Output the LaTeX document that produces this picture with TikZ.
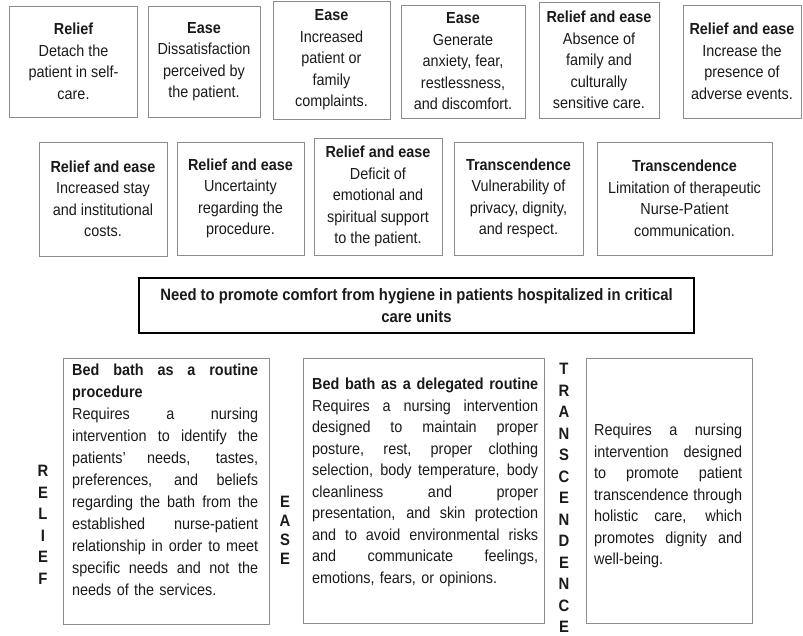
\documentclass[tikz,border=0pt]{standalone}
\usepackage{fontspec}
\setmainfont{Liberation Sans}[FakeStretch=0.9]
\definecolor{framegray}{HTML}{8C8C8C}
\definecolor{ink}{HTML}{1A1A1A}
\setlength{\parindent}{0pt}
% a justified line: interword spaces share out the full width \jlw
\newcommand\jlw{100pt}
\newcommand\jl[1]{\leavevmode\hbox to \jlw{\spaceskip=0.26em plus 1fil\relax
  \xspaceskip=0.26em plus 1fil\relax #1}}
\begin{document}
\begin{tikzpicture}[x=1pt,y=-1pt,
  every node/.style={text=ink},
  cardtxt/.style={font=\fontsize{16}{21.5}\selectfont},
  card/.style={draw=framegray, line width=0.9pt, inner sep=0pt, align=center, cardtxt},
  frame/.style={draw=framegray, line width=0.9pt, inner sep=0pt},
  bodytxt/.style={anchor=north west, inner sep=0pt, align=left, cardtxt},
  vword/.style={inner sep=0pt, align=center, font=\fontsize{16.5}{21.5}\selectfont\bfseries},
  goalbox/.style={draw=black, line width=2.6pt, inner sep=0pt, align=center,
    font=\fontsize{16.5}{21.5}\selectfont\bfseries}]
\useasboundingbox (0,0) rectangle (803,635);

% first row of conditions
\node[card, minimum width=128, minimum height=111] (a1) at (73.5,61.5)
  {\textbf{Relief}\\Detach the\\patient in self-\\care.};
\node[card, minimum width=112, minimum height=111] (a2) at (204,61.5)
  {\textbf{Ease}\\Dissatisfaction\\perceived by\\the patient.};
\node[card, minimum width=117, minimum height=118] (a3) at (331.5,60)
  {\textbf{Ease}\\Increased\\patient or\\family\\complaints.};
\node[card, minimum width=124, minimum height=113] (a4) at (463,61.5)
  {\textbf{Ease}\\Generate\\anxiety, fear,\\restlessness,\\and discomfort.};
\node[card, minimum width=120, minimum height=116] (a5) at (599,60)
  {\textbf{Relief and ease}\\Absence of\\family and\\culturally\\sensitive care.};
\node[card, minimum width=118, minimum height=113] (a6) at (742,61.5)
  {\textbf{Relief and ease}\\Increase the\\presence of\\adverse events.};

% second row of conditions
\node[card, minimum width=128, minimum height=114] (b1) at (103,199)
  {\textbf{Relief and ease}\\Increased stay\\and institutional\\costs.};
\node[card, minimum width=127, minimum height=113] (b2) at (240.5,198.5)
  {\textbf{Relief and ease}\\Uncertainty\\regarding the\\procedure.};
\node[card, minimum width=128, minimum height=117] (b3) at (378,196.5)
  {\textbf{Relief and ease}\\Deficit of\\emotional and\\spiritual support\\to the patient.};
\node[card, minimum width=129, minimum height=113] (b4) at (518.5,198.5)
  {\textbf{Transcendence}\\Vulnerability of\\privacy, dignity,\\and respect.};
\node[card, minimum width=175, minimum height=113] (b5) at (684.5,198.5)
  {\textbf{Transcendence}\\Limitation of therapeutic\\Nurse-Patient\\communication.};

% central need
\node[goalbox, minimum width=555, minimum height=55] (need) at (416.5,305.5)
  {Need to promote comfort from hygiene in patients hospitalized in critical\\care units};

% the three bed bath frames
\node[frame, minimum width=206, minimum height=266] (d1) at (166,491) {};
\node[frame, minimum width=241, minimum height=265] (d2) at (423.5,490.5) {};
\node[frame, minimum width=166, minimum height=265] (d3) at (669,490.5) {};

\node[bodytxt, text width=186, font=\fontsize{16}{22}\selectfont] (d1t) at (72,364) {\renewcommand\jlw{186pt}%
\textbf{\jl{Bed bath as a routine}}\\
\textbf{procedure}\\
\jl{Requires a nursing}\\
\jl{intervention to identify the}\\
\jl{patients\char39{} needs, tastes,}\\
\jl{preferences, and beliefs}\\
\jl{regarding the bath from the}\\
\jl{established nurse-patient}\\
\jl{relationship in order to meet}\\
\jl{specific needs and not the}\\
needs of the services.};

\node[bodytxt, text width=226] (d2t) at (312,378) {\renewcommand\jlw{226pt}%
\textbf{\jl{Bed bath as a delegated routine}}\\
\jl{Requires a nursing intervention}\\
\jl{designed to maintain proper}\\
\jl{posture, rest, proper clothing}\\
\jl{selection, body temperature, body}\\
\jl{cleanliness and proper}\\
\jl{presentation, and skin protection}\\
\jl{and to avoid environmental risks}\\
\jl{and communicate feelings,}\\
emotions, fears, or opinions.};

\node[bodytxt, text width=148] (d3t) at (594,424) {\renewcommand\jlw{148pt}%
\jl{Requires a nursing}\\
\jl{intervention designed}\\
\jl{to promote patient}\\
\jl{transcendence through}\\
\jl{holistic care, which}\\
\jl{promotes dignity and}\\
well-being.};

% vertical labels beside the frames
\node[vword] (relief) at (43,525) {R\\E\\L\\I\\E\\F};
\node[vword, font=\fontsize{16.5}{19}\selectfont\bfseries] (ease) at (285,530) {E\\A\\S\\E};
\node[vword] (trans) at (564,498) {T\\R\\A\\N\\S\\C\\E\\N\\D\\E\\N\\C\\E};
\end{tikzpicture}
\end{document}
